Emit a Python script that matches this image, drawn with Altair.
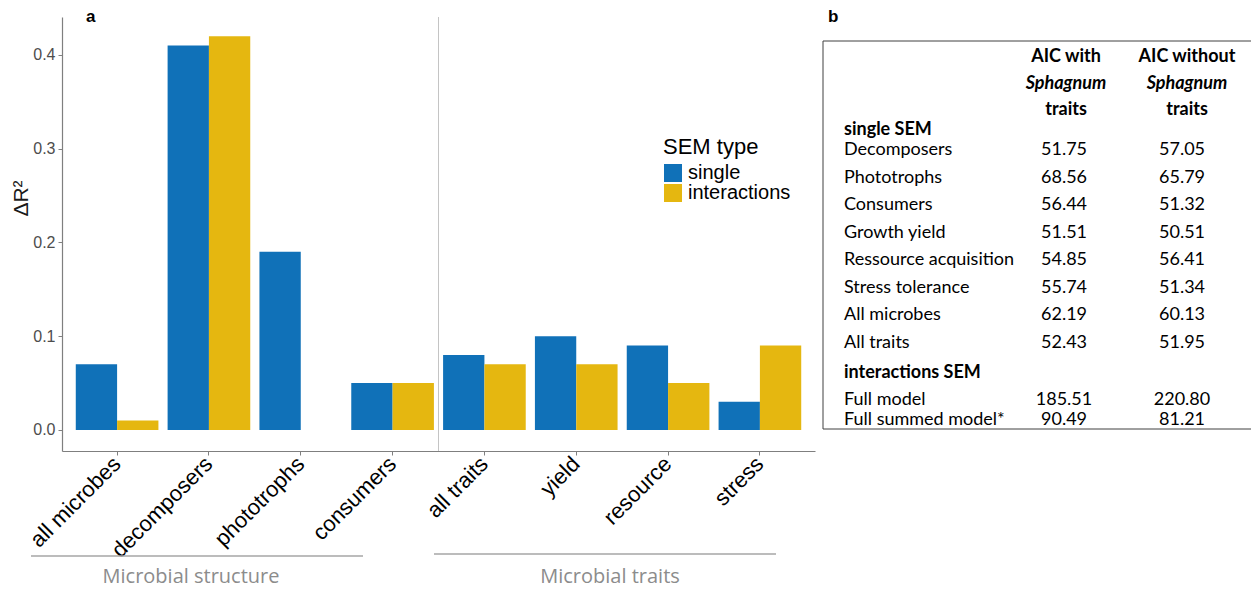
import altair as alt
import pandas as pd

# ---------------- panel a data ----------------
categories = ["all microbes", "decomposers", "phototrophs", "consumers",
              "all traits", "yield", "resource", "stress"]
sem_types = ["single", "interactions"]
single_r2 = [0.07, 0.41, 0.19, 0.05, 0.08, 0.10, 0.09, 0.03]
interactions_r2 = [0.01, 0.42, 0.00, 0.05, 0.07, 0.07, 0.05, 0.09]
bar_colors = ["#1071b8", "#e5b710"]
y_ticks = [0.0, 0.1, 0.2, 0.3, 0.4]
legend_title = ["SEM type"]
groups = ["Microbial structure", "Microbial traits"]
panel_letters = ["a", "b"]

# ---------------- panel b data ----------------
header_with = ["AIC with", "Sphagnum", "traits"]
header_without = ["AIC without", "Sphagnum", "traits"]
section_titles = ["single SEM", "interactions SEM"]
single_models = ["Decomposers", "Phototrophs", "Consumers", "Growth yield",
                 "Ressource acquisition", "Stress tolerance", "All microbes", "All traits"]
single_aic_with = [51.75, 68.56, 56.44, 51.51, 54.85, 55.74, 62.19, 52.43]
single_aic_without = [57.05, 65.79, 51.32, 50.51, 56.41, 51.34, 60.13, 51.95]
inter_models = ["Full model", "Full summed model*"]
inter_aic_with = [185.51, 90.49]
inter_aic_without = [220.80, 81.21]
aic_cols = ["with", "without"]

ARIAL = "Liberation Sans"
TFONT = "Lato"
TSIZE = 18
W, H = 753, 434

color_scale = alt.Scale(domain=sem_types, range=bar_colors)

bars_df = pd.DataFrame({
    "category": categories * 2,
    "type": ["single"] * len(categories) + ["interactions"] * len(categories),
    "value": single_r2 + interactions_r2,
})

bars = alt.Chart(bars_df).mark_bar().encode(
    x=alt.X("category:N", sort=categories, title=None,
            scale=alt.Scale(domain=categories, paddingInner=0.1, paddingOuter=0.15),
            axis=alt.Axis(labelAngle=-45, labelAlign="right", labelBaseline="middle",
                          labelFont=ARIAL, labelFontSize=22, labelColor="black",
                          labelPadding=5, tickSize=4, tickColor="#7f7f7f",
                          domainColor="#7f7f7f", domainWidth=1.2, grid=False)),
    xOffset=alt.XOffset("type:N", sort=sem_types,
                        scale=alt.Scale(domain=sem_types, paddingInner=0, paddingOuter=0)),
    y=alt.Y("value:Q",
            scale=alt.Scale(domain=[-0.0224, 0.4405], nice=False, zero=False),
            axis=alt.Axis(values=y_ticks, format=".1f", labelFont=ARIAL, labelFontSize=16,
                          labelColor="#4d4d4d", labelPadding=3, tickSize=4,
                          tickColor="#7f7f7f", domainColor="#7f7f7f", domainWidth=1.2,
                          grid=False, title="ΔR²", titleFont=ARIAL, titleFontSize=21,
                          titleFontWeight="normal", titleColor="#1a1a1a", titleAngle=270,
                          titleX=-41, titleY=181, titleAlign="center",
                          titleBaseline="middle")),
    color=alt.Color("type:N", sort=sem_types, scale=color_scale, legend=None),
)

# legend drawn from the same colour scale
leg_df = pd.DataFrame({"type": sem_types})
leg_y = alt.Y("type:N", scale=alt.Scale(type="point", domain=sem_types, range=[156, 176], padding=0), axis=None)
leg_sq = alt.Chart(leg_df).mark_square(size=324, opacity=1, strokeWidth=0).encode(
    x=alt.value(611), y=leg_y,
    color=alt.Color("type:N", sort=sem_types, scale=color_scale, legend=None))
leg_lab = alt.Chart(leg_df).mark_text(
    font=ARIAL, fontSize=20, color="black", align="left", baseline="middle").encode(
    x=alt.value(626), y=leg_y, text="type:N")
leg_title = alt.Chart(pd.DataFrame({"t": legend_title})).mark_text(
    font=ARIAL, fontSize=22, color="black", align="left", baseline="alphabetic").encode(
    x=alt.value(601), y=alt.value(137), text="t:N")

one = pd.DataFrame({"k": [0]})

divider = alt.Chart(one).mark_rule(color="#c4c4c4", strokeWidth=1).encode(
    x=alt.value(W / 2), y=alt.value(0), y2=alt.value(H))

letter_a = alt.Chart(pd.DataFrame({"t": [panel_letters[0]]})).mark_text(
    font=ARIAL, fontSize=17, fontWeight="bold", align="left", baseline="alphabetic",
    color="black").encode(text="t:N", x=alt.value(24), y=alt.value(5))
letter_b = alt.Chart(pd.DataFrame({"t": [panel_letters[1]]})).mark_text(
    font=ARIAL, fontSize=17, fontWeight="bold", align="left", baseline="alphabetic",
    color="black").encode(text="t:N", x=alt.value(766), y=alt.value(5))

grp_rule1 = alt.Chart(one).mark_rule(color="#a6a6a6", strokeWidth=1.5).encode(
    x=alt.value(-31), x2=alt.value(301), y=alt.value(539))
grp_rule2 = alt.Chart(one).mark_rule(color="#a6a6a6", strokeWidth=1.5).encode(
    x=alt.value(372), x2=alt.value(714), y=alt.value(537))
grp_text1 = alt.Chart(pd.DataFrame({"g": [groups[0]]})).mark_text(
    font="Open Sans", fontSize=20, color="#8c8c8c", align="center", baseline="middle").encode(
    text="g:N", x=alt.value(129), y=alt.value(560))
grp_text2 = alt.Chart(pd.DataFrame({"g": [groups[1]]})).mark_text(
    font="Open Sans", fontSize=20, color="#8c8c8c", align="center", baseline="middle").encode(
    text="g:N", x=alt.value(548), y=alt.value(560))

# ---------------- table ----------------
box = alt.Chart(one).mark_rect(fillOpacity=0, stroke="#404040", strokeWidth=1).encode(
    x=alt.value(761), x2=alt.value(1195), y=alt.value(24), y2=alt.value(412))

header_df = pd.DataFrame({
    "col": ["with"] * 3 + ["without"] * 3,
    "line": [1, 2, 3] * 2,
    "text": header_with + header_without,
})
hx = alt.X("col:N", scale=alt.Scale(type="point", domain=aic_cols, range=[1004, 1125], padding=0), axis=None)
hy = alt.Y("line:O", scale=alt.Scale(type="point", domain=[1, 2, 3], range=[40, 93], padding=0), axis=None)
header_bold = alt.Chart(header_df).transform_filter("datum.line != 2").mark_text(
    font=TFONT, fontSize=TSIZE, fontWeight="bold", color="black", align="center",
    baseline="middle").encode(x=hx, y=hy, text="text:N")
header_ital = alt.Chart(header_df).transform_filter("datum.line == 2").mark_text(
    font=TFONT, fontSize=TSIZE, fontWeight="bold", fontStyle="italic", color="black",
    align="center", baseline="middle").encode(x=hx, y=hy, text="text:N")

sec_df = pd.DataFrame({"title": section_titles})
sections = alt.Chart(sec_df).mark_text(
    font=TFONT, fontSize=TSIZE, fontWeight="bold", color="black", align="left",
    baseline="middle").encode(
    x=alt.value(782),
    y=alt.Y("title:N", scale=alt.Scale(type="point", domain=section_titles, range=[113, 356], padding=0), axis=None),
    text="title:N")


def table_block(models, with_vals, without_vals, yrange):
    lab_df = pd.DataFrame({"model": models})
    val_df = pd.DataFrame({
        "model": models * 2,
        "col": ["with"] * len(models) + ["without"] * len(models),
        "aic": with_vals + without_vals,
    })
    ysc = alt.Scale(type="point", domain=models, range=yrange, padding=0)
    labels = alt.Chart(lab_df).mark_text(
        font=TFONT, fontSize=TSIZE, color="black", align="left", baseline="middle").encode(
        x=alt.value(782), y=alt.Y("model:N", scale=ysc, axis=None), text="model:N")
    values = alt.Chart(val_df).mark_text(
        font=TFONT, fontSize=TSIZE, color="black", align="center", baseline="middle").encode(
        x=alt.X("col:N", scale=alt.Scale(type="point", domain=aic_cols, range=[1002, 1120], padding=0), axis=None),
        y=alt.Y("model:N", scale=ysc, axis=None),
        text=alt.Text("aic:Q", format=".2f"))
    return labels, values


s_lab, s_val = table_block(single_models, single_aic_with, single_aic_without, [133, 326])
i_lab, i_val = table_block(inter_models, inter_aic_with, inter_aic_without, [383, 403])

chart = alt.layer(
    bars, divider, leg_sq, leg_lab, leg_title, letter_a, letter_b,
    grp_rule1, grp_rule2, grp_text1, grp_text2,
    box, header_bold, header_ital, sections, s_lab, s_val, i_lab, i_val,
).resolve_scale(
    x="independent", y="independent"
).properties(
    width=W, height=H,
    autosize=alt.AutoSizeParams(type="none"),
    padding={"left": 54, "top": 9, "right": 436, "bottom": 137},
).configure_view(stroke=None)

chart.save("out.html", embed_options={"renderer": "svg", "actions": False})
